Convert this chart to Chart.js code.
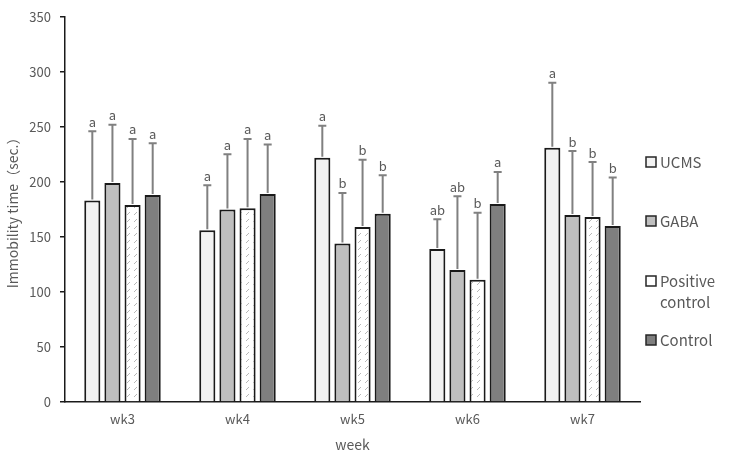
<!DOCTYPE html>
<html>
<head>
<meta charset="utf-8">
<script src="https://cdn.jsdelivr.net/npm/chart.js@4"></script>
<style>
  body { margin: 0; background: #fff; }
  #wrap { width: 730px; height: 457px; }
</style>
</head>
<body>
<div id="wrap"><canvas id="chart" width="730" height="457"></canvas></div>
<script>
const weeks = ['wk3', 'wk4', 'wk5', 'wk6', 'wk7'];
const seriesNames = ['UCMS', 'GABA', 'Positive control', 'Control'];
const ucms = [183, 156, 222, 139, 231];
const gaba = [199, 175, 144, 120, 170];
const positive = [179, 176, 159, 111, 168];
const control = [188, 189, 171, 180, 160];
// upper error (SD)
const ucmsSD = [63, 41, 29, 27, 59];
const gabaSD = [53, 50, 46, 67, 58];
const positiveSD = [60, 63, 61, 61, 50];
const controlSD = [47, 45, 35, 29, 44];
// significance letters
const ucmsSig = ['a', 'a', 'a', 'ab', 'a'];
const gabaSig = ['a', 'a', 'b', 'ab', 'b'];
const positiveSig = ['a', 'a', 'b', 'b', 'b'];
const controlSig = ['a', 'a', 'b', 'a', 'b'];
const yTicks = [0, 50, 100, 150, 200, 250, 300, 350];

const FONT = '"Noto Sans CJK SC", "Noto Sans", sans-serif';
const TEXT = '#595959';

function hatch() {
    const c = document.createElement('canvas');
    c.width = 7; c.height = 7;
    const g = c.getContext('2d');
    g.fillStyle = '#ffffff';
    g.fillRect(0, 0, 7, 7);
    g.strokeStyle = '#b8b8b8';
    g.lineWidth = 1;
    g.beginPath();
    g.moveTo(1, 5); g.lineTo(4, 2);
    g.stroke();
    return g.createPattern(c, 'repeat');
}

const fills = ['#f2f2f2', '#bfbfbf', hatch(), '#7f7f7f'];
const legendFills = ['#f2f2f2', '#bfbfbf', '#ffffff', '#7f7f7f'];
const values = [ucms, gaba, positive, control];
const sds = [ucmsSD, gabaSD, positiveSD, controlSD];
const sigs = [ucmsSig, gabaSig, positiveSig, controlSig];

const errorBars = {
    id: 'errorBars',
    afterDatasetsDraw(chart) {
        const ctx = chart.ctx;
        const y = chart.scales.y;
        ctx.save();
        chart.data.datasets.forEach((ds, i) => {
            chart.getDatasetMeta(i).data.forEach((bar, j) => {
                const top = y.getPixelForValue(ds.data[j] + ds.sd[j]);
                ctx.strokeStyle = '#808080';
                ctx.lineWidth = 2;
                ctx.beginPath();
                ctx.moveTo(bar.x, bar.y - 1);
                ctx.lineTo(bar.x, top);
                ctx.moveTo(bar.x - 4, top);
                ctx.lineTo(bar.x + 4, top);
                ctx.stroke();
                ctx.fillStyle = TEXT;
                ctx.font = '13px ' + FONT;
                ctx.textAlign = 'center';
                ctx.textBaseline = 'bottom';
                ctx.fillText(ds.sig[j], bar.x, top - 3);
            });
        });
        // legend on the right
        const rows = [[162], [221], [281, 302], [340]];
        const lines = [['UCMS'], ['GABA'], ['Positive', 'control'], ['Control']];
        ctx.font = '15px ' + FONT;
        ctx.textAlign = 'left';
        ctx.textBaseline = 'middle';
        rows.forEach((r, i) => {
            ctx.fillStyle = legendFills[i];
            ctx.strokeStyle = '#262626';
            ctx.lineWidth = 1.5;
            ctx.fillRect(646, r[0] - 5, 10, 10);
            ctx.strokeRect(646, r[0] - 5, 10, 10);
            ctx.fillStyle = TEXT;
            r.forEach((yy, k) => ctx.fillText(lines[i][k], 660, yy));
        });
        ctx.restore();
    }
};

new Chart(document.getElementById('chart'), {
    type: 'bar',
    data: {
        labels: weeks,
        datasets: seriesNames.map((name, i) => ({
            label: name,
            data: values[i],
            sd: sds[i],
            sig: sigs[i],
            backgroundColor: fills[i],
            borderColor: '#1a1a1a',
            borderWidth: 2,
            borderSkipped: 'bottom',
            categoryPercentage: 0.7,
            barPercentage: 0.8
        }))
    },
    options: {
        responsive: false,
        animation: false,
        layout: { padding: { top: 10, right: 90, left: 0, bottom: 0 } },
        plugins: {
            legend: { display: false },
            tooltip: { enabled: false }
        },
        scales: {
            x: {
                grid: { display: false, drawTicks: false },
                border: { color: '#1a1a1a', width: 1.5 },
                ticks: { color: TEXT, font: { family: FONT, size: 13 }, padding: 9 },
                title: { display: true, text: 'week', color: TEXT, font: { family: FONT, size: 14 }, padding: { top: 4 } },
                afterFit(s) { s.height = 55; }
            },
            y: {
                min: 0,
                max: 350,
                afterBuildTicks(s) { s.ticks = yTicks.map(v => ({ value: v })); },
                grid: { display: true, drawOnChartArea: false, drawTicks: true, tickLength: 5, color: '#1a1a1a', lineWidth: 1.5 },
                border: { color: '#1a1a1a', width: 1.5 },
                ticks: { color: TEXT, font: { family: FONT, size: 13 }, padding: 9 },
                title: { display: true, text: 'Immobility time（sec.）', color: TEXT, font: { family: FONT, size: 14 }, padding: { bottom: 2 } },
                afterFit(s) { s.width = 65; }
            }
        }
    },
    plugins: [errorBars]
});
</script>
</body>
</html>
